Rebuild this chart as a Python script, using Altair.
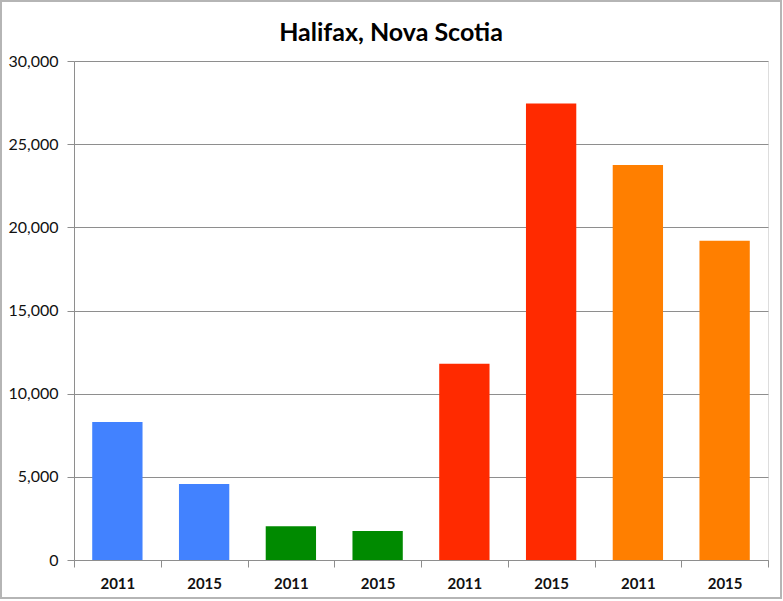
import altair as alt
import pandas as pd

# Data
title_text = "Halifax, Nova Scotia"
ids = ["1 2011", "2 2015", "3 2011", "4 2015", "5 2011", "6 2015", "7 2011", "8 2015"]
groups = ["blue", "blue", "green", "green", "red", "red", "orange", "orange"]
values = [8300, 4570, 2030, 1750, 11800, 27450, 23750, 19200]

group_domain = ["blue", "green", "red", "orange"]
group_colors = ["#4282FF", "#008A00", "#FF2A00", "#FF7F00"]

df = pd.DataFrame({"id": ids, "group": groups, "value": values})

W, H = 694, 499
GRID = "#8e8e8e"

bars = alt.Chart(df).mark_bar(width=alt.RelativeBandSize(0.58)).encode(
    x=alt.X(
        "id:N",
        sort=None,
        scale=alt.Scale(paddingInner=0, paddingOuter=0),
        axis=alt.Axis(
            title=None,
            labelAngle=0,
            labelExpr="substring(datum.label, 2)",
            labelFont="Lato",
            labelFontSize=15,
            labelFontWeight="bold",
            labelColor="#111111",
            labelPadding=9,
            tickBand="extent",
            tickSize=7,
            tickColor=GRID,
            domainColor=GRID,
            grid=False,
        ),
    ),
    y=alt.Y(
        "value:Q",
        scale=alt.Scale(domain=[0, 30000], nice=False),
        axis=alt.Axis(
            title=None,
            values=[0, 5000, 10000, 15000, 20000, 25000, 30000],
            format=",.0f",
            labelFont="Lato",
            labelFontSize=16,
            labelColor="#111111",
            labelPadding=9,
            tickSize=7,
            tickColor=GRID,
            domainColor=GRID,
            gridColor=GRID,
            gridOpacity=1,
        ),
    ),
    color=alt.Color(
        "group:N",
        scale=alt.Scale(domain=group_domain, range=group_colors),
        legend=None,
    ),
)

one = pd.DataFrame({"t": [title_text]})
frame = alt.Chart(one).mark_rect(
    fill=None, stroke="#b5b5b5", strokeWidth=2
).encode(
    x=alt.value(-73), x2=alt.value(707), y=alt.value(-60), y2=alt.value(537)
)

title = alt.Chart(one).mark_text(
    font="Lato", fontSize=25, fontWeight="bold", color="#000000",
    align="center", baseline="alphabetic",
).encode(
    text="t:N", x=alt.value(317), y=alt.value(-20)
)

chart = alt.layer(frame, bars, title).properties(
    width=W,
    height=H,
    autosize=alt.AutoSizeParams(type="none"),
    padding={"left": 74, "top": 61, "right": 15, "bottom": 41},
).configure_view(stroke=None).configure(background="white")

chart.save("out.html", embed_options={"renderer": "svg", "actions": False})
